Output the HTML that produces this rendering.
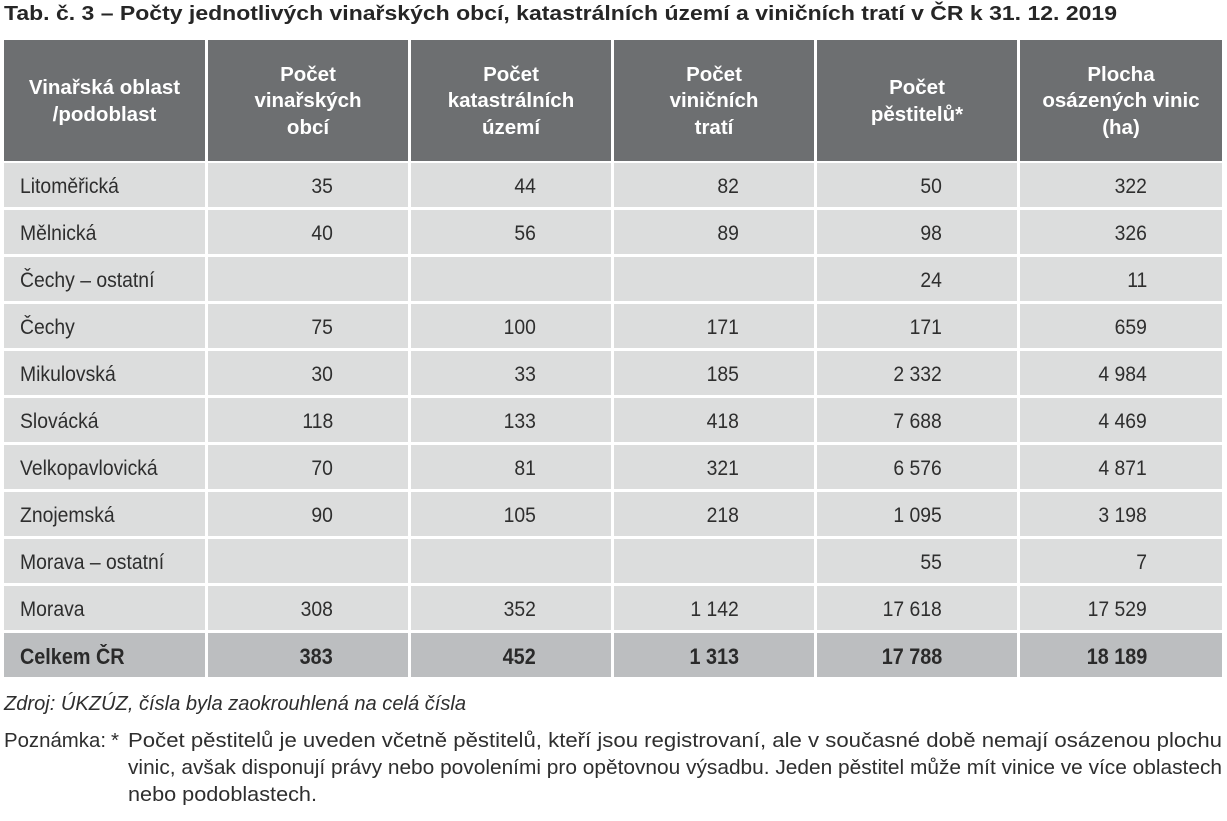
<!DOCTYPE html>
<html lang="cs">
<head>
<meta charset="utf-8">
<style>
  html, body { margin:0; padding:0; background:#fff; }
  body { width:1227px; height:821px; position:relative; overflow:hidden;
         font-family:"Liberation Sans", "DejaVu Sans", sans-serif; color:#2e2e2e; }
  .abs { position:absolute; }
  .title { left:4px; top:0; font-weight:bold; font-size:20.5px; line-height:27px; white-space:nowrap; color:#262626; transform-origin:left center; }
  .hdr { position:absolute; top:40px; height:121px; background:#6d6f71; color:#fff; font-weight:bold;
         font-size:20.5px; line-height:26.5px; display:flex; align-items:center; justify-content:center; text-align:center; padding-top:2px; box-sizing:border-box; }
  .cell { position:absolute; height:44px; line-height:44px; font-size:21.5px; background:#dcdddd; box-sizing:border-box; white-space:nowrap; }
  .cell span { display:inline-block; padding-top:3px; line-height:41px; transform:scaleX(0.9); }
  .c0 { padding-left:16px; text-align:left; }
  .c0 span { transform-origin:left center; }
  .cn { padding-right:75px; text-align:right; }
  .cn span { transform-origin:right center; }
  .tot { background:#bcbec0; font-weight:bold; font-size:22px; color:#2a2a2a; }
  .foot { font-size:20.5px; line-height:27px; white-space:nowrap; color:#2e2e2e; transform-origin:left center; }
</style>
</head>
<body>

<div class="abs title" id="ttl">Tab. č. 3 – Počty jednotlivých vinařských obcí, katastrálních území a viničních tratí v ČR k 31. 12. 2019</div>

<!-- header -->
<div class="hdr" style="left:4px;width:201px;">Vinařská oblast<br>/podoblast</div>
<div class="hdr" style="left:208px;width:200px;">Počet<br>vinařských<br>obcí</div>
<div class="hdr" style="left:411px;width:200px;">Počet<br>katastrálních<br>území</div>
<div class="hdr" style="left:614px;width:200px;">Počet<br>viničních<br>tratí</div>
<div class="hdr" style="left:817px;width:200px;">Počet<br>pěstitelů*</div>
<div class="hdr" style="left:1020px;width:202px;">Plocha<br>osázených vinic<br>(ha)</div>

<div id="rows"></div>

<div class="abs foot" id="zdroj" style="left:4px;top:690px;font-style:italic;">Zdroj: ÚKZÚZ, čísla byla zaokrouhlená na celá čísla</div>

<div class="abs foot" id="pozn" style="left:4px;top:727px;">Poznámka:</div>
<div class="abs foot" style="left:111px;top:727px;">*</div>
<div class="abs foot" id="l1" style="left:128px;top:727px;">Počet pěstitelů je uveden včetně pěstitelů, kteří jsou registrovaní, ale v současné době nemají osázenou plochu</div>
<div class="abs foot" id="l2" style="left:128px;top:754px;">vinic, avšak disponují právy nebo povoleními pro opětovnou výsadbu. Jeden pěstitel může mít vinice ve více oblastech</div>
<div class="abs foot" id="l3" style="left:128px;top:781px;">nebo podoblastech.</div>

<script>
(function(){
  var data = [
    ["Litoměřická","35","44","82","50","322"],
    ["Mělnická","40","56","89","98","326"],
    ["Čechy – ostatní","","","","24","11"],
    ["Čechy","75","100","171","171","659"],
    ["Mikulovská","30","33","185","2 332","4 984"],
    ["Slovácká","118","133","418","7 688","4 469"],
    ["Velkopavlovická","70","81","321","6 576","4 871"],
    ["Znojemská","90","105","218","1 095","3 198"],
    ["Morava – ostatní","","","","55","7"],
    ["Morava","308","352","1 142","17 618","17 529"],
    ["Celkem ČR","383","452","1 313","17 788","18 189"]
  ];
  var lefts=[4,208,411,614,817,1020], widths=[201,200,200,200,200,202];
  var html="";
  for(var r=0;r<data.length;r++){
    var top=163+r*47;
    var tot = (r===data.length-1);
    for(var c=0;c<6;c++){
      html+='<div class="cell '+(c===0?'c0':'cn')+(tot?' tot':'')+'" style="left:'+lefts[c]+'px;top:'+top+'px;width:'+widths[c]+'px;"><span>'+data[r][c]+'</span></div>';
    }
  }
  document.getElementById("rows").innerHTML=html;
  function fit(id,target){
    var e=document.getElementById(id); if(!e) return;
    var w=e.getBoundingClientRect().width;
    if(w>0) e.style.transform="scaleX("+(target/w)+")";
  }
  fit("ttl",1113);
  fit("zdroj",462);
  fit("pozn",102);
  fit("l1",1094);
  fit("l2",1094);
  fit("l3",189);
})();
</script>
</body>
</html>
